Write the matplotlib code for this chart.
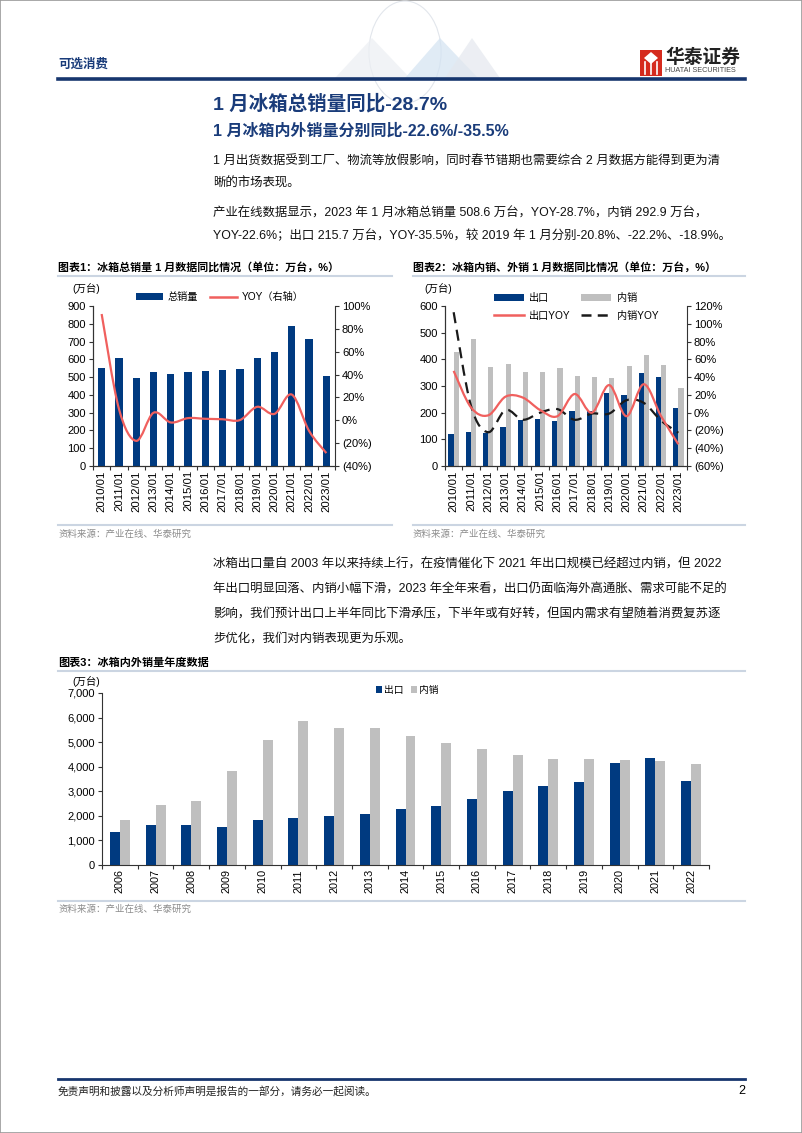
import numpy as np
import matplotlib
matplotlib.use('Agg')
import matplotlib.pyplot as plt
from matplotlib.path import Path
from matplotlib.patches import PathPatch, Rectangle, Polygon, Circle
from matplotlib.lines import Line2D
from matplotlib.ticker import FuncFormatter, StrMethodFormatter

plt.rcParams['font.family'] = ['Liberation Sans', 'Noto Sans CJK SC', 'DejaVu Sans']

W, H = 802, 1133

# 图表1：冰箱总销量 1 月数据
months = ['2010/01', '2011/01', '2012/01', '2013/01', '2014/01', '2015/01', '2016/01',
          '2017/01', '2018/01', '2019/01', '2020/01', '2021/01', '2022/01', '2023/01']
total_sales = [550, 605, 497, 530, 520, 530, 537, 542, 543, 607, 641, 785, 712, 508.6]
total_yoy = [93, 10, -18, 6.6, -1.9, 1.9, 1.3, 0.9, 0.2, 11.8, 5.6, 22.5, -9.3, -28.7]

# 图表2：内销、外销 1 月数据
export_jan = [120, 127, 123, 145, 172, 177, 170, 206, 205, 275, 265, 350, 335, 215.7]
domestic_jan = [428, 478, 373, 384, 352, 351, 366, 336, 334, 331, 376, 417, 378, 292.9]
export_yoy = [47, 6, -3, 18, 17, 3, -4, 21, 0, 31, -4, 32, -4, -35.5]
domestic_yoy = [113, 8, -22, 3, -8, 0, 4, -8, -1, -1, 14, 11, -9, -22.6]

# 图表3：年度数据
years = ['2006', '2007', '2008', '2009', '2010', '2011', '2012', '2013', '2014',
         '2015', '2016', '2017', '2018', '2019', '2020', '2021', '2022']
export_year = [1350, 1620, 1640, 1550, 1820, 1900, 1990, 2090, 2280, 2390, 2680,
               3010, 3200, 3390, 4170, 4370, 3430]
domestic_year = [1820, 2460, 2600, 3830, 5090, 5880, 5590, 5590, 5260, 4960, 4730,
                 4470, 4300, 4320, 4260, 4250, 4120]

NAVY = '#003A80'
GRAY = '#BFBFBF'
RED = '#F0605E'
TITLE_BLUE = '#1A3C7A'
RULE = '#CBD5E2'

fig = plt.figure(figsize=(W / 100, H / 100), dpi=100)


def fx(x):
    return x / W


def fy(y):
    return 1 - y / H


def ftext(x, y, s, **kw):
    kw.setdefault('va', 'center')
    kw.setdefault('ha', 'left')
    fig.text(fx(x), fy(y), s, **kw)


def hline(x0, x1, y, color, lw):
    fig.add_artist(Line2D([fx(x0), fx(x1)], [fy(y), fy(y)], color=color, lw=lw,
                          transform=fig.transFigure))


def add_axes(left, right, top, bottom):
    return fig.add_axes([fx(left), fy(bottom), fx(right - left), (bottom - top) / H])


def smooth_path(x, y):
    # 类似 Excel 平滑线的贝塞尔曲线
    pts = np.column_stack([x, y]).astype(float)
    n = len(pts)
    verts = [pts[0]]
    codes = [Path.MOVETO]
    for i in range(n - 1):
        p0 = pts[i - 1] if i > 0 else pts[i]
        p3 = pts[i + 2] if i + 2 < n else pts[i + 1]
        c1 = pts[i] + (pts[i + 1] - p0) / 6
        c2 = pts[i + 1] - (p3 - pts[i]) / 6
        verts += [c1, c2, pts[i + 1]]
        codes += [Path.CURVE4] * 3
    return Path(verts, codes)


def pct(v, pos):
    v = int(round(v))
    return f'({abs(v)}%)' if v < 0 else f'{v}%'


def style_axes(ax, labels, rot_fs=8.2):
    n = len(labels)
    ax.set_xlim(-0.5, n - 0.5)
    ax.set_xticks(np.arange(n + 1) - 0.5)
    ax.set_xticklabels([])
    ax.set_xticks(np.arange(n), minor=True)
    ax.set_xticklabels(labels, minor=True, rotation=90, fontsize=rot_fs)
    ax.tick_params(axis='x', which='major', length=3, color='#333333')
    ax.tick_params(axis='x', which='minor', length=0, pad=3)
    ax.tick_params(axis='y', labelsize=8, length=3, color='#333333', pad=2)
    ax.spines['top'].set_visible(False)
    for s in ax.spines.values():
        s.set_color('#333333')
        s.set_linewidth(0.8)


def style_right(ax):
    ax.yaxis.set_major_formatter(FuncFormatter(pct))
    ax.tick_params(axis='y', labelsize=8, length=3, color='#333333', pad=2)
    for s in ax.spines.values():
        s.set_color('#333333')
        s.set_linewidth(0.8)
    ax.spines['top'].set_visible(False)


# ---- 页眉 ----
fig.add_artist(Rectangle((0, 0), 1, 1, transform=fig.transFigure, fill=False,
                         ec='#9A9A9A', lw=1.2))
# 背景装饰
fig.add_artist(Circle((fx(405), fy(52)), 0.045, transform=fig.transFigure,
                      fill=False, ec='#E2E6EC', lw=0.8))
for xs, c in [([335, 372, 410], '#ECEFF3'), ([405, 440, 478], '#D3E3F2'),
              ([445, 472, 500], '#E4E8EE')]:
    fig.add_artist(Polygon([(fx(xs[0]), fy(78)), (fx(xs[1]), fy(38)), (fx(xs[2]), fy(78))],
                           closed=True, transform=fig.transFigure, fc=c, ec='none', alpha=0.7))
ftext(58, 65, '可选消费', fontsize=9, color=TITLE_BLUE, fontweight='bold')
hline(58, 745, 79, '#17366E', 2.6)
fig.add_artist(Rectangle((fx(640), fy(76)), fx(22), 26 / H, transform=fig.transFigure,
                         fc='#D52B1E', ec='none'))
for lx in [645, 651, 657]:
    fig.add_artist(Line2D([fx(lx), fx(lx)], [fy(74), fy(62)], color='white', lw=1.2,
                          transform=fig.transFigure))
fig.add_artist(Polygon([(fx(644), fy(58)), (fx(651), fy(52)), (fx(658), fy(58)), (fx(651), fy(64))],
                       closed=True, transform=fig.transFigure, fc='white', ec='none'))
ftext(665, 58, '华泰证券', fontsize=13.5, fontweight='bold', color='#222222')
ftext(665, 71, 'HUATAI SECURITIES', fontsize=5.2, color='#444444')

# ---- 标题与正文 ----
ftext(213, 104, '1 月冰箱总销量同比-28.7%', fontsize=14, fontweight='bold', color=TITLE_BLUE)
ftext(213, 131, '1 月冰箱内外销量分别同比-22.6%/-35.5%', fontsize=11.5, fontweight='bold',
      color=TITLE_BLUE)
body = dict(fontsize=8.95, color='#111111')
ftext(213, 162, '1 月出货数据受到工厂、物流等放假影响，同时春节错期也需要综合 2 月数据方能得到更为清', **body)
ftext(213, 184, '晰的市场表现。', **body)
ftext(213, 214, '产业在线数据显示，2023 年 1 月冰箱总销量 508.6 万台，YOY-28.7%，内销 292.9 万台，', **body)
ftext(213, 236, 'YOY-22.6%；出口 215.7 万台，YOY-35.5%，较 2019 年 1 月分别-20.8%、-22.2%、-18.9%。', **body)

# ---- 图表1 ----
ftext(58, 267, '图表1：冰箱总销量 1 月数据同比情况（单位：万台，%）', fontsize=7.9, fontweight='bold')
hline(58, 392, 276, RULE, 1.5)
ftext(72, 288, '(万台)', fontsize=7.5)

x = np.arange(len(months))
ax1 = add_axes(93, 335, 306, 466)
b1 = ax1.bar(x, total_sales, width=0.42, color=NAVY)
ax1.set_ylim(0, 900)
ax1.set_yticks(np.arange(0, 901, 100))
style_axes(ax1, months)
ax1.spines['right'].set_visible(False)
ax1r = ax1.twinx()
ax1r.set_ylim(-40, 100)
ax1r.set_yticks(np.arange(-40, 101, 20))
style_right(ax1r)
ax1r.add_patch(PathPatch(smooth_path(x, total_yoy), fill=False, ec=RED, lw=1.6))
h_line = Line2D([], [], color=RED, lw=1.8)
ax1.legend([b1, h_line], ['总销量', 'YOY（右轴）'], loc='center',
           bbox_to_anchor=(fx(220), fy(297)), bbox_transform=fig.transFigure,
           ncol=2, frameon=False, fontsize=7.3, handlelength=2.6, handleheight=0.6,
           columnspacing=1.2, handletextpad=0.5)

# ---- 图表2 ----
ftext(413, 267, '图表2：冰箱内销、外销 1 月数据同比情况（单位：万台，%）', fontsize=7.9,
      fontweight='bold')
hline(413, 745, 276, RULE, 1.5)
ftext(424, 288, '(万台)', fontsize=7.5)

ax2 = add_axes(445, 687, 306, 466)
b2a = ax2.bar(x - 0.15, export_jan, width=0.3, color=NAVY)
b2b = ax2.bar(x + 0.15, domestic_jan, width=0.3, color=GRAY)
ax2.set_ylim(0, 600)
ax2.set_yticks(np.arange(0, 601, 100))
style_axes(ax2, months)
ax2.spines['right'].set_visible(False)
ax2r = ax2.twinx()
ax2r.set_ylim(-60, 120)
ax2r.set_yticks(np.arange(-60, 121, 20))
style_right(ax2r)
ax2r.add_patch(PathPatch(smooth_path(x, domestic_yoy), fill=False, ec='#1A1A1A', lw=1.6,
                         linestyle=(0, (5, 3))))
ax2r.add_patch(PathPatch(smooth_path(x, export_yoy), fill=False, ec=RED, lw=1.6))
h_exp = Line2D([], [], color=RED, lw=1.8)
h_dom = Line2D([], [], color='#1A1A1A', lw=1.8, linestyle=(0, (4, 2.5)))
ax2.legend([b2a, h_exp, b2b, h_dom], ['出口', '出口YOY', '内销', '内销YOY'], loc='center',
           bbox_to_anchor=(fx(576), fy(307)), bbox_transform=fig.transFigure,
           ncol=2, frameon=False, fontsize=7.3, handlelength=3.0, handleheight=0.6,
           columnspacing=1.0, handletextpad=0.5, labelspacing=0.75)

for x0, x1 in [(58, 392), (413, 745)]:
    hline(x0, x1, 525, RULE, 1.5)
    ftext(x0, 534, '资料来源：产业在线、华泰研究', fontsize=6.8, color='#8C8C8C')

# ---- 正文2 ----
ftext(213, 565, '冰箱出口量自 2003 年以来持续上行，在疫情催化下 2021 年出口规模已经超过内销，但 2022', **body)
ftext(213, 590, '年出口明显回落、内销小幅下滑，2023 年全年来看，出口仍面临海外高通胀、需求可能不足的', **body)
ftext(213, 615, '影响，我们预计出口上半年同比下滑承压，下半年或有好转，但国内需求有望随着消费复苏逐', **body)
ftext(213, 640, '步优化，我们对内销表现更为乐观。', **body)

# ---- 图表3 ----
ftext(58, 663, '图表3：冰箱内外销量年度数据', fontsize=8.0, fontweight='bold')
hline(58, 745, 671, RULE, 1.5)
ftext(72, 681, '(万台)', fontsize=7.5)

xy = np.arange(len(years))
ax3 = add_axes(102, 709, 693, 865)
b3a = ax3.bar(xy - 0.14, export_year, width=0.28, color=NAVY)
b3b = ax3.bar(xy + 0.14, domestic_year, width=0.28, color=GRAY)
ax3.set_ylim(0, 7000)
ax3.set_yticks(np.arange(0, 7001, 1000))
ax3.yaxis.set_major_formatter(StrMethodFormatter('{x:,.0f}'))
style_axes(ax3, years, rot_fs=7.8)
ax3.spines['right'].set_visible(False)
ax3.legend([b3a, b3b], ['出口', '内销'], loc='center',
           bbox_to_anchor=(fx(407), fy(690)), bbox_transform=fig.transFigure,
           ncol=2, frameon=False, fontsize=7, handlelength=0.6, handleheight=0.6,
           columnspacing=0.8, handletextpad=0.2)

hline(58, 745, 901, RULE, 1.5)
ftext(58, 909, '资料来源：产业在线、华泰研究', fontsize=6.8, color='#8C8C8C')

# ---- 页脚 ----
hline(58, 745, 1079, '#17366E', 2.0)
ftext(58, 1091, '免责声明和披露以及分析师声明是报告的一部分，请务必一起阅读。', fontsize=7.7,
      style='italic', color='#222222')
ftext(745, 1091, '2', fontsize=9, ha='right')

fig.savefig('out.png', dpi=100)
